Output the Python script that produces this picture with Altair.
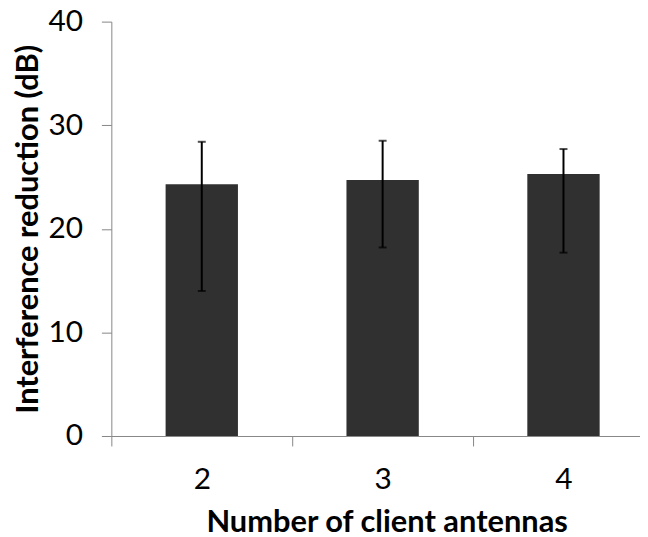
import altair as alt
import pandas as pd

antennas = ["2", "3", "4"]
reduction = [24.3, 24.7, 25.3]
err_high = [28.4, 28.5, 27.7]
err_low = [14.0, 18.2, 17.7]
y_ticks = [0, 10, 20, 30, 40]

df = pd.DataFrame({
    "antennas": antennas,
    "reduction": reduction,
    "high": err_high,
    "low": err_low,
})

FONT = "Lato"
GRAY = "#868686"
YTITLE = "Interference reduction (dB)"
XTITLE = "Number of client antennas"

x_enc = alt.X(
    "antennas:N",
    sort=antennas,
    scale=alt.Scale(range=[0, 546], paddingInner=0, paddingOuter=0),
    axis=alt.Axis(title=XTITLE, labelAngle=0, tickBand="extent", titleX=277),
)

y_scale = alt.Scale(domain=[0, 40])


def y_enc(field):
    return alt.Y(field, scale=y_scale,
                 axis=alt.Axis(values=y_ticks, labelPadding=19, titlePadding=4),
                 title=YTITLE)


bars = alt.Chart(df).mark_bar(color="#303030", width={"band": 0.4}).encode(
    x=x_enc,
    y=y_enc("reduction:Q"),
)

rules = alt.Chart(df).mark_rule(color="black", strokeWidth=2).encode(
    x=x_enc,
    y=y_enc("low:Q"),
    y2="high:Q",
)

cap_hi = alt.Chart(df).mark_tick(color="black", thickness=2, size=8).encode(
    x=x_enc,
    y=y_enc("high:Q"),
)
cap_lo = alt.Chart(df).mark_tick(color="black", thickness=2, size=8).encode(
    x=x_enc,
    y=y_enc("low:Q"),
)

chart = (
    alt.layer(bars, rules, cap_hi, cap_lo)
    .properties(
        width=532,
        height=417,
        autosize=alt.AutoSizeParams(type="none"),
        padding={"left": 104, "top": 12, "right": 0, "bottom": 110},
        background="white",
    )
    .configure_view(stroke=None)
    .configure_axis(
        labelFont=FONT,
        titleFont=FONT,
        labelFontSize=30,
        titleFontSize=31,
        titleFontWeight="bold",
        labelColor="black",
        titleColor="black",
        domainColor=GRAY,
        tickColor=GRAY,
        tickSize=10,
        grid=False,
    )
    .configure_axisX(labelPadding=19, titlePadding=13)
)

chart.save("out.html", embed_options={"renderer": "svg", "actions": False})
